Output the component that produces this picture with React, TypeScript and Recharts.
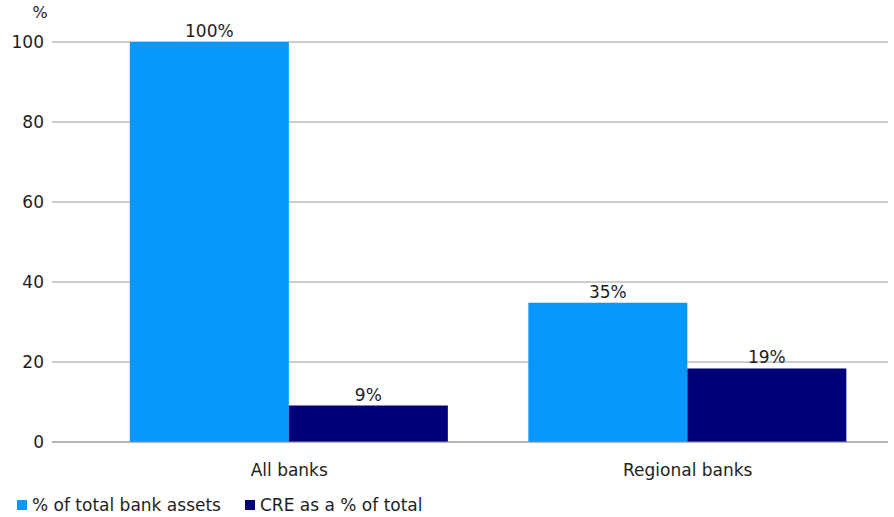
import React from "react";
import {
  BarChart,
  Bar,
  XAxis,
  YAxis,
  CartesianGrid,
  Legend,
  LabelList,
} from "recharts";

const categories = ["All banks", "Regional banks"];
const bankAssets = [100, 34.8];
const creShare = [9.1, 18.4];
const assetLabels = ["100%", "35%"];
const creLabels = ["9%", "19%"];
const yTicks = [0, 20, 40, 60, 80, 100];

const LIGHT = "#0797fa";
const DARK = "#00007a";
const FONT = "'DejaVu Sans', sans-serif";
const TEXT = "#1e1e1e";
const GRID = "#9a9a9a";

const data = categories.map((name, i) => ({
  name,
  assets: bankAssets[i],
  cre: creShare[i],
  assetsLabel: assetLabels[i],
  creLabel: creLabels[i],
}));

const legendItems = [
  { label: "% of total bank assets", color: LIGHT },
  { label: "CRE as a % of total", color: DARK },
];

const ChartLegend = () => (
  <div
    style={{
      display: "flex",
      alignItems: "center",
      height: 24,
      fontFamily: FONT,
      fontSize: 17,
      color: TEXT,
    }}
  >
    {legendItems.map((item) => (
      <div
        key={item.label}
        style={{ display: "flex", alignItems: "center", marginRight: 24 }}
      >
        <span
          style={{
            width: 10,
            height: 10,
            background: item.color,
            display: "inline-block",
            marginRight: 5,
          }}
        />
        <span>{item.label}</span>
      </div>
    ))}
  </div>
);

const App: React.FC = () => {
  return (
    <div style={{ position: "absolute", left: 0, top: 0 }}>
      <BarChart
        width={894}
        height={517}
        data={data}
        margin={{ top: 42, right: 6, left: 8, bottom: 0 }}
        barCategoryGap="10%"
        barGap={0}
      >
        <CartesianGrid vertical={false} stroke={GRID} />
        <XAxis
          dataKey="name"
          height={51}
          padding={{ left: 38, right: 1 }}
          tickLine={false}
          axisLine={{ stroke: GRID }}
          tickMargin={16}
          tick={{ fill: TEXT, fontSize: 17, fontFamily: FONT }}
        />
        <YAxis
          width={44}
          domain={[0, 100]}
          ticks={yTicks}
          axisLine={false}
          tickLine={false}
          tick={{ fill: TEXT, fontSize: 17, fontFamily: FONT }}
          label={{
            content: () => (
              <text
                x={40}
                y={18}
                textAnchor="middle"
                fill={TEXT}
                fontSize={16}
                fontFamily={FONT}
              >
                %
              </text>
            ),
          }}
        />
        <Legend
          verticalAlign="bottom"
          align="left"
          content={<ChartLegend />}
          wrapperStyle={{ left: 17, bottom: 0 }}
        />
        <Bar dataKey="assets" fill={LIGHT} isAnimationActive={false}>
          <LabelList
            dataKey="assetsLabel"
            position="top"
            offset={5}
            fill={TEXT}
            fontSize={17}
            fontFamily={FONT}
          />
        </Bar>
        <Bar dataKey="cre" fill={DARK} isAnimationActive={false}>
          <LabelList
            dataKey="creLabel"
            position="top"
            offset={5}
            fill={TEXT}
            fontSize={17}
            fontFamily={FONT}
          />
        </Bar>
      </BarChart>
    </div>
  );
};

export default App;
